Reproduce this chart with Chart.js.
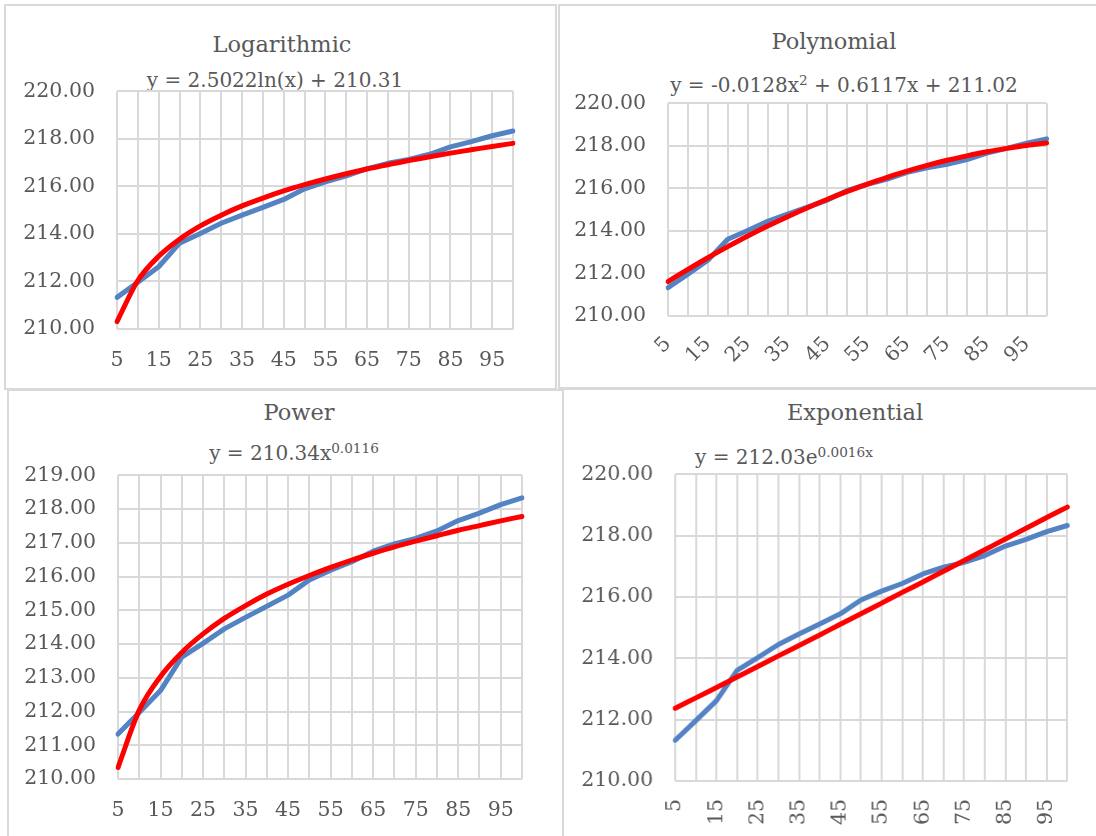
<!DOCTYPE html>
<html>
<head>
<meta charset="utf-8">
<title>Trendline fits</title>
<script src="https://cdn.jsdelivr.net/npm/chart.js@4.4.1/dist/chart.umd.min.js"></script>
<style>
  html, body { margin: 0; padding: 0; background: #fff; }
  body { width: 1096px; height: 836px; position: relative; overflow: hidden; font-family: "DejaVu Serif", serif; color: #595959; }
  .panel { position: absolute; border: 2px solid #d9d9d9; box-sizing: border-box; }
  .wrap { position: absolute; }
  .wrap canvas { display: block; }
  .title { position: absolute; width: 400px; text-align: center; font-size: 22.5px; line-height: 22.5px; white-space: nowrap; }
  .eq { position: absolute; font-size: 20px; line-height: 20px; white-space: nowrap; }
  .eq.center { width: 400px; text-align: center; }
  .eq sup { font-size: 0.68em; line-height: 0; vertical-align: baseline; position: relative; top: -0.5em; }
</style>
</head>
<body>
<div class="panel" style="left:4px;top:4px;width:553px;height:386px"></div>
<div class="panel" style="left:558px;top:4px;width:540px;height:385px"></div>
<div class="panel" style="left:7px;top:389px;width:557px;height:460px"></div>
<div class="panel" style="left:562px;top:388px;width:540px;height:460px"></div>

<div class="title" style="left:82px;top:33px">Logarithmic</div>
<div class="eq center" style="left:75px;top:70px">y = 2.5022ln(x) + 210.31</div>

<div class="title" style="left:634px;top:30px">Polynomial</div>
<div class="eq center" style="left:644px;top:75px">y = -0.0128x<sup>2</sup> + 0.6117x + 211.02</div>

<div class="title" style="left:99px;top:401px">Power</div>
<div class="eq center" style="left:94px;top:443px">y = 210.34x<sup>0.0116</sup></div>

<div class="title" style="left:655px;top:401px">Exponential</div>
<div class="eq" style="left:695px;top:447px">y = 212.03e<sup>0.0016x</sup></div>

<div class="wrap" id="w-log"><canvas id="c-log"></canvas></div>
<div class="wrap" id="w-poly"><canvas id="c-poly"></canvas></div>
<div class="wrap" id="w-power"><canvas id="c-power"></canvas></div>
<div class="wrap" id="w-exp"><canvas id="c-exp"></canvas></div>

<script>
// x categories (every other one gets a label)
const categories = [5, 10, 15, 20, 25, 30, 35, 40, 45, 50, 55, 60, 65, 70, 75, 80, 85, 90, 95, 100];

// measured series (blue), same in all four panels
const observed = [211.33, 211.97, 212.62, 213.61, 214.02, 214.45, 214.79, 215.12, 215.45, 215.90,
                  216.19, 216.44, 216.75, 216.97, 217.13, 217.35, 217.66, 217.88, 218.13, 218.33];

// trendlines (red)
const logTrend = [210.31, 212.04, 213.06, 213.78, 214.34, 214.79, 215.18, 215.51, 215.81, 216.07,
                  216.31, 216.53, 216.73, 216.91, 217.09, 217.25, 217.40, 217.54, 217.68, 217.81];
const polyTrend = [211.62, 212.19, 212.74, 213.26, 213.76, 214.23, 214.67, 215.09, 215.49, 215.86,
                   216.20, 216.52, 216.81, 217.08, 217.32, 217.53, 217.72, 217.88, 218.02, 218.13];
const powerTrend = [210.34, 212.04, 213.04, 213.75, 214.30, 214.76, 215.14, 215.48, 215.77, 216.03,
                    216.27, 216.49, 216.69, 216.88, 217.05, 217.21, 217.37, 217.51, 217.65, 217.78];
const expTrend = [212.37, 212.71, 213.05, 213.39, 213.73, 214.08, 214.42, 214.76, 215.11, 215.45,
                  215.80, 216.15, 216.49, 216.84, 217.19, 217.54, 217.89, 218.24, 218.59, 218.93];

// y axis ranges
const yRangeMain = { min: 210, max: 220, step: 2 };
const yRangePower = { min: 210, max: 219, step: 1 };

const AX = 100, PT = 20, PR = 20, XH = 60;
const GRID = "#d9d9d9";
const TEXT = "#595959";

function chartConfig(trend, yRange, rotation, xPad) {
  return {
    type: "line",
    data: {
      labels: categories,
      datasets: [
        {
          label: "Trend",
          data: trend,
          borderColor: "#ff0000",
          borderWidth: 5,
          borderCapStyle: "round",
          pointRadius: 0,
          cubicInterpolationMode: "monotone",
          order: 0
        },
        {
          label: "Data",
          data: observed,
          borderColor: "#5383c3",
          borderWidth: 5,
          borderCapStyle: "round",
          borderJoinStyle: "round",
          pointRadius: 0,
          tension: 0,
          order: 1
        }
      ]
    },
    options: {
      responsive: false,
      animation: false,
      events: [],
      layout: { padding: { left: 0, top: PT, right: PR, bottom: 0 } },
      plugins: { legend: { display: false }, tooltip: { enabled: false } },
      scales: {
        x: {
          grid: { color: GRID, lineWidth: 2, drawTicks: false },
          border: { display: false },
          ticks: {
            autoSkip: false,
            minRotation: rotation,
            maxRotation: rotation,
            padding: xPad,
            color: TEXT,
            font: { family: "DejaVu Serif", size: 20.5 },
            callback: (v, i) => (i % 2 === 0 ? String(categories[i]) : "")
          },
          afterFit: s => { s.height = XH; }
        },
        y: {
          min: yRange.min,
          max: yRange.max,
          grid: { color: GRID, lineWidth: 2, drawTicks: false },
          border: { display: false },
          ticks: {
            stepSize: yRange.step,
            padding: 22,
            color: TEXT,
            font: { family: "DejaVu Serif", size: 20.5 },
            callback: v => v.toFixed(2)
          },
          afterFit: s => { s.width = AX; }
        }
      }
    }
  };
}

// draw once, measure where the plot area landed, then redraw so it sits on the target box
function makeChart(key, plot, trend, yRange, rotation, xPad) {
  const canvas = document.getElementById("c-" + key);
  const wrap = document.getElementById("w-" + key);
  let w = plot.r - plot.l + AX + PR;
  let h = plot.b - plot.t + PT + XH;
  canvas.width = w;
  canvas.height = h;
  let chart = new Chart(canvas.getContext("2d"), chartConfig(trend, yRange, rotation, xPad));
  let ca = chart.chartArea;
  w += (plot.r - plot.l) - (ca.right - ca.left);
  h += (plot.b - plot.t) - (ca.bottom - ca.top);
  chart.destroy();
  canvas.width = w;
  canvas.height = h;
  canvas.style.width = w + "px";
  canvas.style.height = h + "px";
  chart = new Chart(canvas.getContext("2d"), chartConfig(trend, yRange, rotation, xPad));
  ca = chart.chartArea;
  wrap.style.left = (plot.l - ca.left) + "px";
  wrap.style.top = (plot.t - ca.top) + "px";
}

makeChart("log", { l: 117, t: 91, r: 513, b: 329 }, logTrend, yRangeMain, 0, 19);
makeChart("poly", { l: 668, t: 103, r: 1047, b: 316 }, polyTrend, yRangeMain, 45, 16);
makeChart("power", { l: 118, t: 475, r: 522, b: 779 }, powerTrend, yRangePower, 0, 19);
makeChart("exp", { l: 675, t: 474, r: 1067, b: 781 }, expTrend, yRangeMain, 90, 18);
</script>
</body>
</html>
